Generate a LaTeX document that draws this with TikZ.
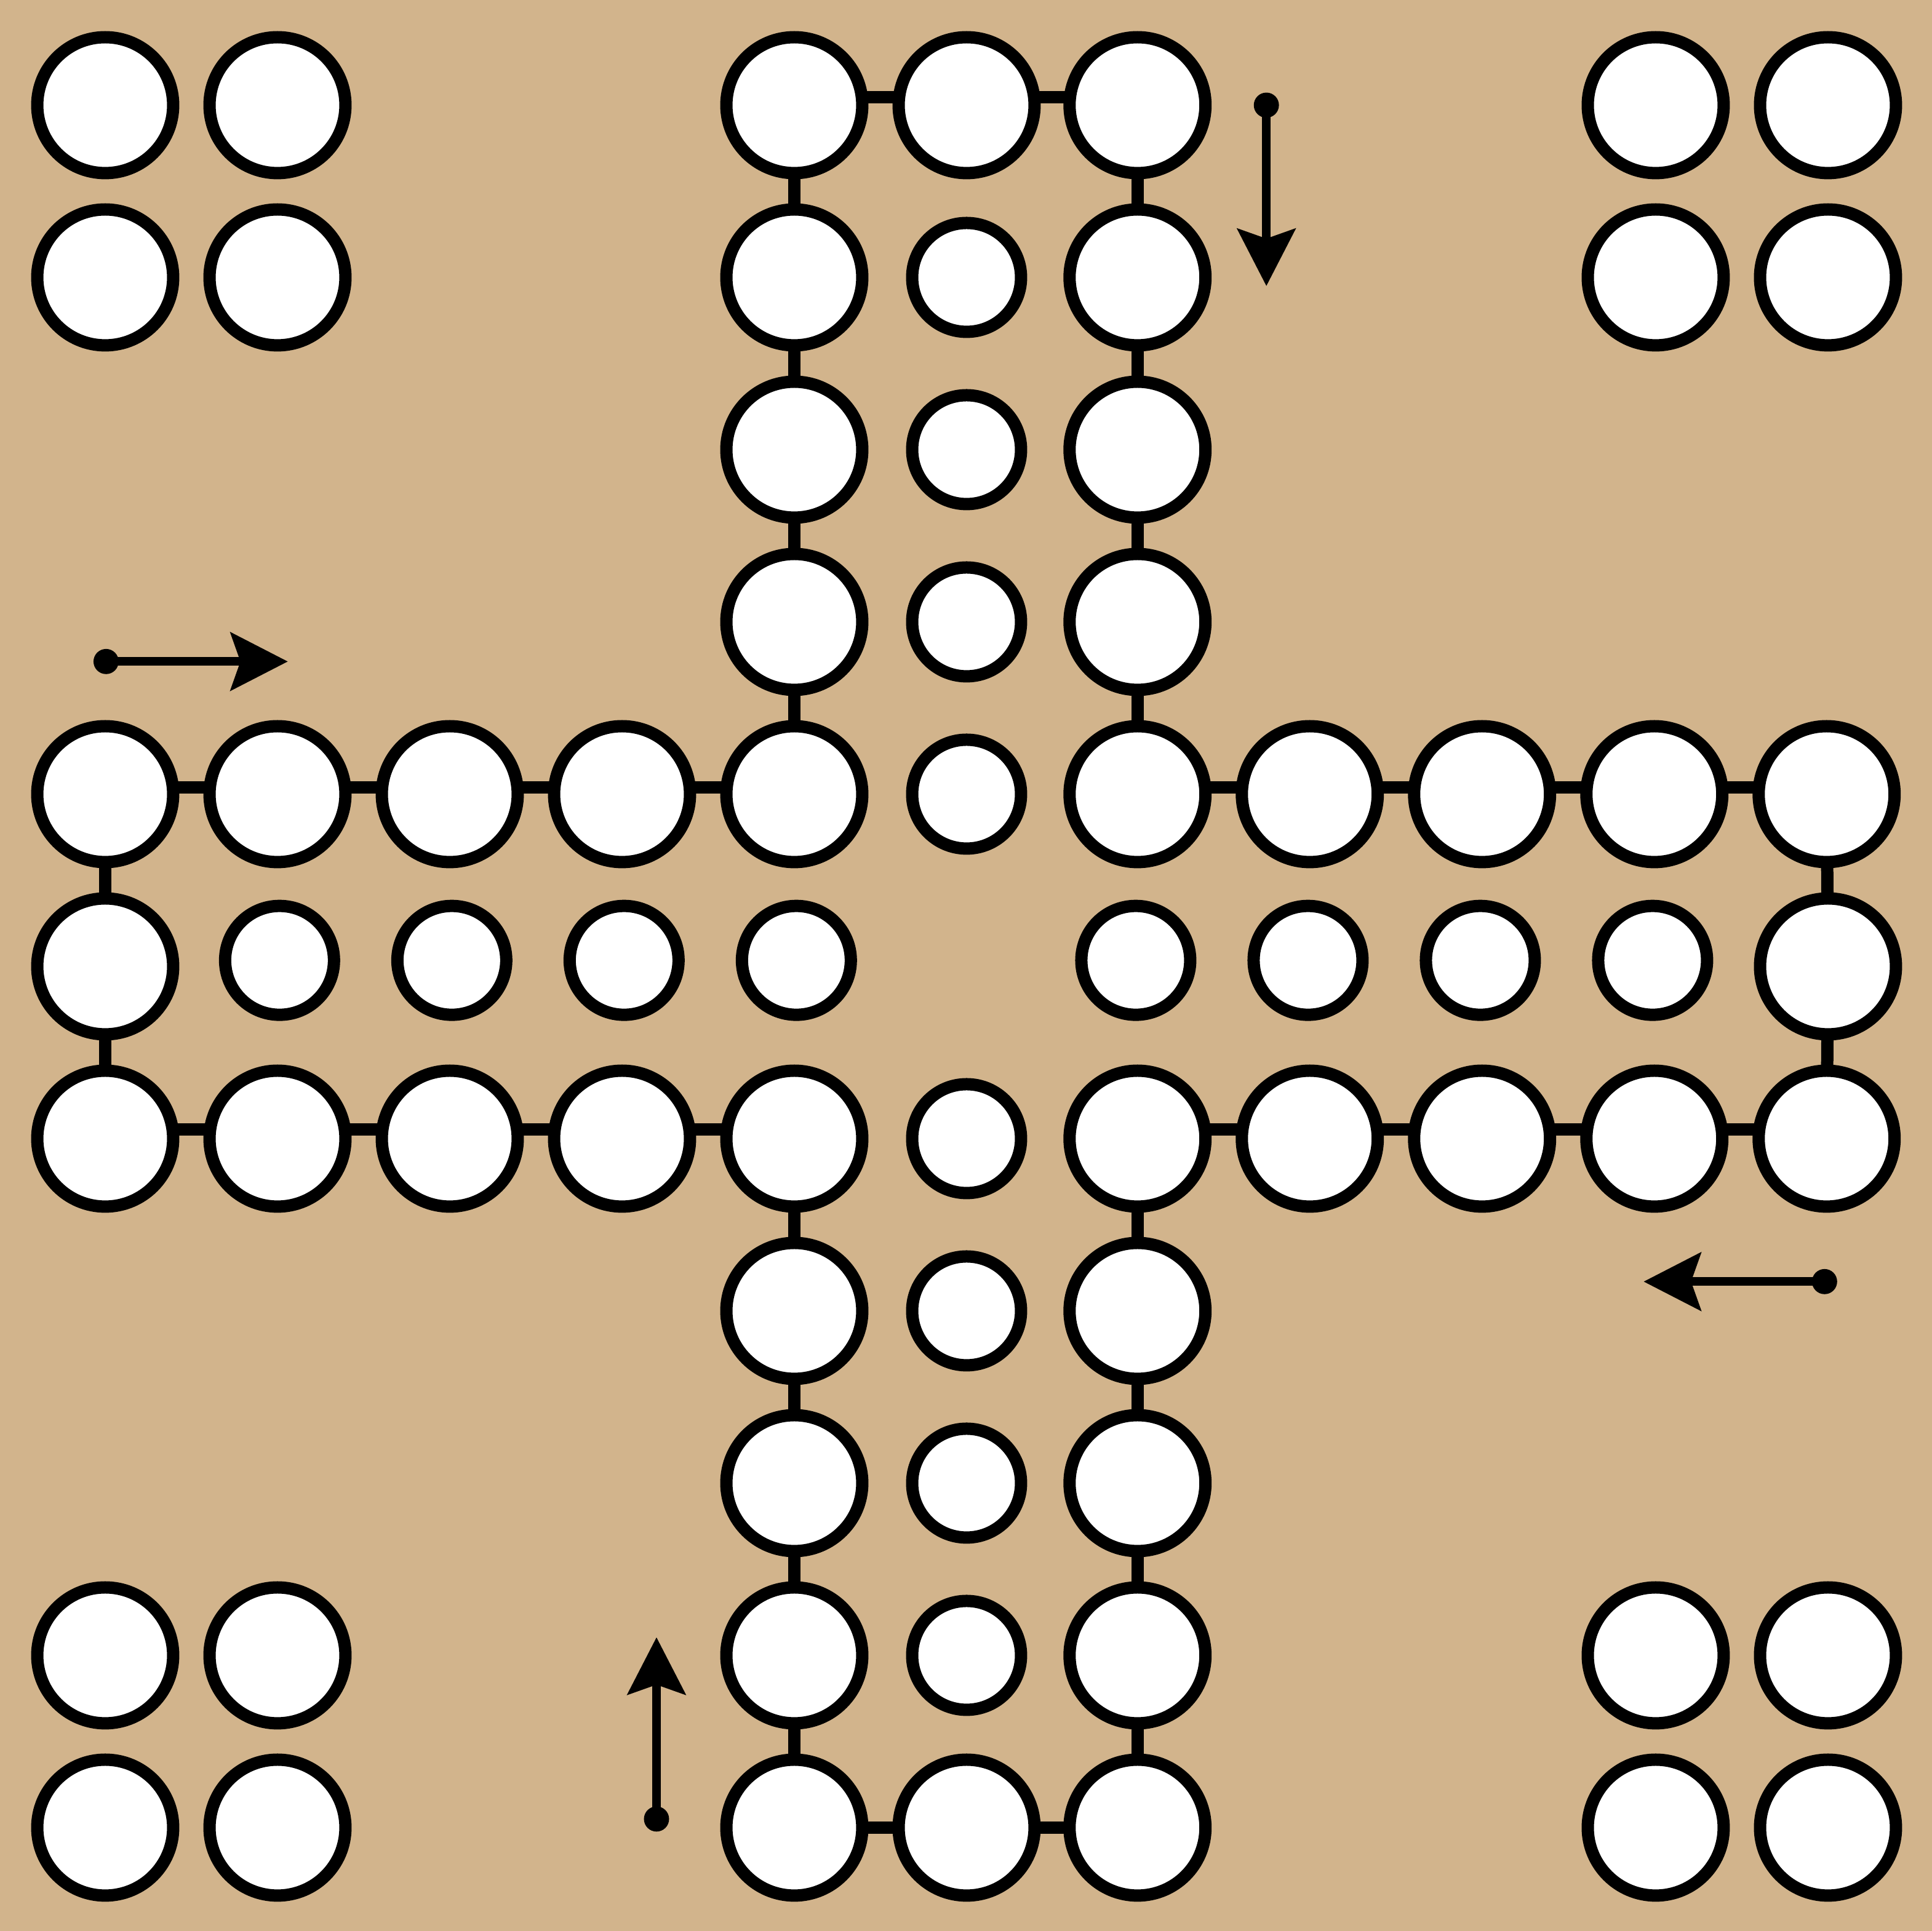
\documentclass[tikz,border=0pt]{standalone}
\usetikzlibrary{arrows.meta}
\pgfdeclarelayer{board}
\pgfdeclarelayer{links}
\pgfsetlayers{board,links,main}
\definecolor{boardtan}{HTML}{D2B48C}
\begin{document}
\begin{tikzpicture}[x=1cm,y=-1cm,
  field/.style={circle,draw=black,fill=white,line width=0.0714cm,inner sep=0pt,minimum size=0.789cm},
  goal/.style={field,minimum size=0.632cm},
  link/.style={line width=0.0714cm},
  dirline/.style={line width=0.05cm,-{Stealth[length=0.332cm,width=0.336cm,inset=0.057cm]}},
  startdot/.style={fill=black}]
\begin{pgfonlayer}{board}
\fill[boardtan] (-0.6107,-0.6107) rectangle (10.6036,10.6);
\end{pgfonlayer}
\path[use as bounding box] (-0.6107,-0.6107) rectangle (10.6036,10.6);

% track fields
\foreach \i/\j in {4/0,5/0,4/1,4/2,4/3,
  0/4,1/4,2/4,3/4,4/4,
  0/5,10/5,
  0/6,1/6,2/6,3/6,4/6,
  4/7,4/8,4/9,4/10,5/10}
  \node[field] (c-\i-\j) at (\i,\j) {};
\foreach \i/\j in {6/0,6/1,6/2,6/3,6/4,7/4,8/4,9/4,10/4,
  6/6,7/6,8/6,9/6,10/6,6/7,6/8,6/9,6/10}
  \node[field] (c-\i-\j) at (\i-0.008,\j) {};

% home fields
\foreach \i in {0,1,9,10}
  \foreach \j in {0,1,9,10}
    \node[field] (h-\i-\j) at (\i,\j) {};

% goal fields
\foreach \j in {1,2,3,4,6,7,8,9}
  \node[goal] (g-5-\j) at (5,\j) {};
\foreach \i in {1,2,3,4}
  \node[goal] (g-\i-5) at (\i+0.012,4.965) {};
\foreach \i in {6,7,8,9}
  \node[goal] (g-\i-5) at (\i-0.018,4.965) {};

% links between track fields
\begin{pgfonlayer}{links}
\foreach \a/\b in {4/5,5/6}
  \draw[link] ([yshift=0.045cm]c-\a-0.center) -- ([yshift=0.045cm]c-\b-0.center);
\foreach \a/\b in {0/1,1/2,2/3,3/4,6/7,7/8,8/9,9/10}
  \draw[link] ([yshift=0.04cm]c-\a-4.center) -- ([yshift=0.04cm]c-\b-4.center);
\foreach \a/\b in {0/1,1/2,2/3,3/4,6/7,7/8,8/9,9/10}
  \draw[link] ([yshift=0.055cm]c-\a-6.center) -- ([yshift=0.055cm]c-\b-6.center);
\foreach \a/\b in {4/5,5/6}
  \draw[link] (c-\a-10.center) -- (c-\b-10.center);
\foreach \a/\b in {0/1,1/2,2/3,3/4,6/7,7/8,8/9,9/10}{
  \draw[link] (c-4-\a.center) -- (c-4-\b.center);
  \draw[link] (c-6-\a.center) -- (c-6-\b.center);
}
\foreach \a/\b in {4/5,5/6}{
  \draw[link] (c-0-\a.center) -- (c-0-\b.center);
  \draw[link] (c-10-\a.center) -- (c-10-\b.center);
}
\end{pgfonlayer}

% start arrows
\coordinate (s1) at (0.005,3.23);  \coordinate (e1) at (1.06,3.23);
\coordinate (s2) at (6.74,0);      \coordinate (e2) at (6.74,1.05);
\coordinate (s3) at (9.98,6.83);   \coordinate (e3) at (8.93,6.83);
\coordinate (s4) at (3.2,9.95);    \coordinate (e4) at (3.2,8.895);
\foreach \k in {1,2,3,4}{
  \draw[dirline] (s\k) -- (e\k);
  \fill[startdot] (s\k) circle (0.073cm);
}
\end{tikzpicture}
\end{document}
